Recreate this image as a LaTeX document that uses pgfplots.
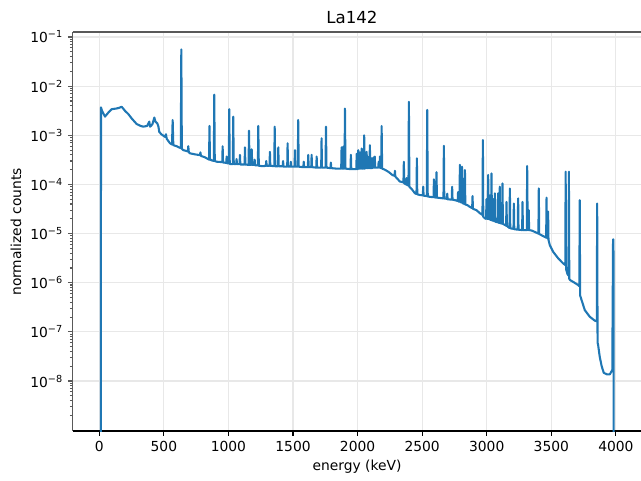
\documentclass[border=0pt]{standalone}
\usepackage{fontspec}
\setmainfont{DejaVu Sans}
\usepackage{pgfplots}
\pgfplotsset{compat=1.18}
\definecolor{mplblue}{HTML}{1F77B4}
\definecolor{spinegray}{HTML}{595959}
\begin{document}
\begin{tikzpicture}
\useasboundingbox (0,0) rectangle (6.41in,4.81in);
\begin{axis}[
  at={(0.727in,0.50in)}, anchor=south west,
  scale only axis, width=5.853in, height=3.99in,
  xmin=-206, xmax=4326,
  ymode=log, ymin=9.62e-10, ymax=0.1265,
  axis x line*=bottom, axis y line*=left,
  separate axis lines,
  x axis line style={black, line width=0.8pt, -},
  y axis line style={spinegray, line width=1.1pt, -},
  xtick={0,500,1000,1500,2000,2500,3000,3500,4000},
  ytick={1e-8,1e-7,1e-6,1e-5,1e-4,1e-3,1e-2,1e-1},
  yticklabels={10\textsuperscript{−8},10\textsuperscript{−7},10\textsuperscript{−6},10\textsuperscript{−5},10\textsuperscript{−4},10\textsuperscript{−3},10\textsuperscript{−2},10\textsuperscript{−1}},
  minor ytick={2e-9,3e-9,4e-9,5e-9,6e-9,7e-9,8e-9,9e-9,
    2e-8,3e-8,4e-8,5e-8,6e-8,7e-8,8e-8,9e-8,
    2e-7,3e-7,4e-7,5e-7,6e-7,7e-7,8e-7,9e-7,
    2e-6,3e-6,4e-6,5e-6,6e-6,7e-6,8e-6,9e-6,
    2e-5,3e-5,4e-5,5e-5,6e-5,7e-5,8e-5,9e-5,
    2e-4,3e-4,4e-4,5e-4,6e-4,7e-4,8e-4,9e-4,
    2e-3,3e-3,4e-3,5e-3,6e-3,7e-3,8e-3,9e-3,
    2e-2,3e-2,4e-2,5e-2,6e-2,7e-2,8e-2,9e-2},
  tick align=outside,
  major tick length=3.5pt, minor tick length=2pt,
  tick style={line width=0.8pt},
  ytick style={color=spinegray},
  xtick style={color=black},
  grid=major, major grid style={black!9, line width=0.8pt},
  minor grid style={draw=none},
  tick label style={font=\fontsize{10}{12}\selectfont, black},
  /pgf/number format/assume math mode=true,
  /pgf/number format/1000 sep={},
  scaled x ticks=false,
  clip mode=individual,
]
\addplot[color=mplblue, line width=1.5pt, line join=round] coordinates {
(0,1e-12)(12,1e-12)(13,3.7e-3)(20,3.2e-3)(44,2.4e-3)(70,2.9e-3)(96,3.4e-3)(130,3.5e-3)(150,3.6e-3)(173,3.8e-3)(185,3.5e-3)(199,3.15e-3)(225,2.7e-3)(251,2.2e-3)(289,1.7e-3)(320,1.55e-3)(341,1.5e-3)(370,1.55e-3)(387,1.9e-3)(393,1.5e-3)(400,1.55e-3)(412,1.7e-3)(426,2.3e-3)(435,1.9e-3)(449,1.75e-3)(458,1.5e-3)(464,1.18e-3)(480,1.05e-3)(509,9.3e-4)(516,1.05e-3)(522,8.5e-4)(547,6.9e-4)(563,6.5e-4)(568,2.05e-3)(573,6.3e-4)(599,6.0e-4)(615,5.7e-4)(631,5.5e-4)(635,5.6e-2)(639,5.3e-4)(650,5.0e-4)(686,4.7e-4)(689,6.0e-4)(693,4.5e-4)(702,4.3e-4)(740,4.1e-4)(779,3.95e-4)(783,4.5e-4)(787,3.8e-4)(815,3.6e-4)(850,3.2e-4)(853,1.55e-3)(857,3.2e-4)(870,3.1e-4)(887,3.0e-4)(890,6.7e-3)(894,3.0e-4)(909,2.9e-4)(952,2.85e-4)(955,6.0e-4)(958,2.8e-4)(983,2.75e-4)(986,3.7e-4)(989,2.7e-4)(1003,2.7e-4)(1006,3.4e-3)(1010,2.6e-4)(1034,2.6e-4)(1037,2.4e-3)(1041,2.6e-4)(1060,2.6e-4)(1063,3.3e-4)(1066,2.6e-4)(1086,2.6e-4)(1089,4.0e-4)(1092,2.55e-4)(1125,2.55e-4)(1128,5.7e-4)(1131,2.55e-4)(1156,2.5e-4)(1159,1.24e-3)(1163,2.5e-4)(1177,2.5e-4)(1180,5.2e-4)(1184,2.5e-4)(1200,2.5e-4)(1203,3.2e-4)(1206,2.45e-4)(1228,2.45e-4)(1231,1.55e-3)(1235,2.4e-4)(1269,2.35e-4)(1290,2.4e-4)(1293,3.0e-4)(1296,2.4e-4)(1318,2.4e-4)(1321,4.6e-4)(1324,2.4e-4)(1355,2.35e-4)(1358,1.5e-3)(1362,2.35e-4)(1383,2.35e-4)(1386,5.7e-4)(1389,2.35e-4)(1420,2.35e-4)(1423,3.0e-4)(1426,2.3e-4)(1455,2.3e-4)(1458,6.9e-4)(1461,2.3e-4)(1480,2.3e-4)(1483,2.9e-4)(1486,2.3e-4)(1512,2.3e-4)(1515,5.0e-4)(1518,2.3e-4)(1537,2.3e-4)(1540,2.05e-3)(1544,2.3e-4)(1580,2.25e-4)(1583,2.9e-4)(1586,2.25e-4)(1615,2.25e-4)(1618,4.0e-4)(1621,2.25e-4)(1641,2.25e-4)(1644,4.0e-4)(1647,2.25e-4)(1680,2.2e-4)(1683,3.7e-4)(1686,2.2e-4)(1718,2.2e-4)(1721,8.7e-4)(1724,2.2e-4)(1752,2.2e-4)(1755,1.5e-3)(1759,2.2e-4)(1790,2.15e-4)(1793,2.8e-4)(1796,2.15e-4)(1837,2.1e-4)(1873,2.1e-4)(1876,5.7e-4)(1879,2.1e-4)(1886,2.1e-4)(1889,5.9e-4)(1892,2.1e-4)(1899,2.1e-4)(1902,3.5e-3)(1906,2.1e-4)(1945,2.05e-4)(1948,4.0e-4)(1951,2.05e-4)(1970,2.05e-4)(1990,2.05e-4)(1993,4.2e-4)(1996,2.05e-4)(2002,2.05e-4)(2005,5.0e-4)(2008,2.1e-4)(2016,2.1e-4)(2019,4.5e-4)(2022,2.1e-4)(2028,2.1e-4)(2031,5.4e-4)(2034,2.1e-4)(2040,2.1e-4)(2043,3.5e-4)(2046,2.1e-4)(2048,2.1e-4)(2051,1.0e-3)(2054,2.1e-4)(2060,2.15e-4)(2063,3.2e-4)(2066,2.15e-4)(2067,2.15e-4)(2070,4.6e-4)(2073,2.15e-4)(2080,2.15e-4)(2083,3.6e-4)(2086,2.15e-4)(2092,2.15e-4)(2095,6.3e-4)(2098,2.15e-4)(2105,2.15e-4)(2108,3.4e-4)(2111,2.15e-4)(2118,2.2e-4)(2121,3.5e-4)(2124,2.2e-4)(2130,2.2e-4)(2133,3.7e-4)(2136,2.2e-4)(2160,2.2e-4)(2163,2.9e-4)(2166,2.2e-4)(2170,2.2e-4)(2173,3.7e-4)(2176,2.2e-4)(2183,2.15e-4)(2186,1.55e-3)(2190,2.1e-4)(2210,2.0e-4)(2240,1.8e-4)(2270,1.55e-4)(2286,1.5e-4)(2289,1.9e-4)(2292,1.45e-4)(2327,1.15e-4)(2355,1.1e-4)(2358,2.9e-4)(2361,1.05e-4)(2376,1.0e-4)(2379,1.35e-4)(2382,9.8e-5)(2394,9.5e-5)(2397,4.8e-3)(2401,9.0e-5)(2420,8.0e-5)(2444,6.6e-5)(2456,6.4e-5)(2459,3.4e-4)(2462,6.3e-5)(2482,6.1e-5)(2505,6.0e-5)(2508,9.0e-5)(2511,5.9e-5)(2536,5.8e-5)(2539,3.3e-3)(2543,5.7e-5)(2560,5.6e-5)(2588,5.5e-5)(2591,1.27e-4)(2594,5.5e-5)(2608,5.4e-5)(2611,1.77e-4)(2614,5.4e-5)(2640,5.3e-5)(2665,5.2e-5)(2668,6.1e-4)(2671,5.2e-5)(2691,5.1e-5)(2694,6.5e-5)(2697,5.0e-5)(2729,4.9e-5)(2732,9.0e-5)(2735,4.9e-5)(2753,4.8e-5)(2775,4.6e-5)(2778,7e-5)(2781,4.5e-5)(2789,4.5e-5)(2792,2.5e-4)(2795,4.4e-5)(2805,4.3e-5)(2808,2.3e-4)(2811,4.2e-5)(2818,4.1e-5)(2821,1.3e-4)(2824,4.0e-5)(2828,4.0e-5)(2831,1.96e-4)(2834,3.9e-5)(2850,3.8e-5)(2869,3.5e-5)(2887,3.3e-5)(2890,5.8e-5)(2893,3.2e-5)(2920,3.0e-5)(2947,2.6e-5)(2967,2.4e-5)(2970,8.0e-4)(2973,2.2e-5)(2985,2.05e-5)(2995,2.0e-5)(2998,5.0e-5)(3001,2.0e-5)(3008,2.0e-5)(3011,1.56e-4)(3014,2.0e-5)(3022,1.95e-5)(3025,6.0e-5)(3028,1.9e-5)(3034,1.9e-5)(3037,1.68e-4)(3040,1.85e-5)(3047,1.85e-5)(3050,5.0e-5)(3053,1.8e-5)(3060,1.8e-5)(3063,6.6e-5)(3066,1.75e-5)(3085,1.7e-5)(3088,6.6e-5)(3091,1.68e-5)(3098,1.65e-5)(3101,9.0e-5)(3104,1.63e-5)(3119,1.6e-5)(3122,1.05e-4)(3125,1.58e-5)(3150,1.45e-5)(3153,4.4e-5)(3156,1.43e-5)(3176,1.3e-5)(3179,8.3e-5)(3182,1.28e-5)(3207,1.25e-5)(3210,4.1e-5)(3213,1.23e-5)(3240,1.2e-5)(3243,5.2e-5)(3246,1.2e-5)(3274,1.18e-5)(3277,4.4e-5)(3280,1.18e-5)(3310,1.18e-5)(3313,2.37e-4)(3317,1.18e-5)(3322,1.18e-5)(3325,3.0e-5)(3328,1.18e-5)(3350,1.15e-5)(3386,1.04e-5)(3400,1.0e-5)(3403,8.3e-5)(3406,9.8e-6)(3437,8.9e-6)(3460,8.3e-6)(3463,5.4e-5)(3466,8.2e-6)(3472,8.0e-6)(3475,2.8e-5)(3478,7.5e-6)(3488,5.85e-6)(3514,4.27e-6)(3553,3.14e-6)(3591,2.48e-6)(3608,2.3e-6)(3611,1.82e-4)(3614,1.9e-6)(3625,1.5e-6)(3633,1.4e-6)(3636,1.82e-4)(3639,1.2e-6)(3644,1.14e-6)(3680,1.0e-6)(3707,9.0e-7)(3717,8.5e-7)(3720,4.8e-5)(3723,5.5e-7)(3726,5.2e-7)(3759,2.78e-7)(3798,2.03e-7)(3837,1.69e-7)(3852,1.65e-7)(3855,4.1e-5)(3858,6e-8)(3862,5.5e-8)(3875,3.1e-8)(3890,2.0e-8)(3906,1.47e-8)(3930,1.37e-8)(3953,1.37e-8)(3972,1.68e-8)(3978,7.6e-6)(3981,7.6e-6)(3984,1e-12)(4120,1e-12)
};
\draw[spinegray, line width=1.1pt] (rel axis cs:0,1) -- (rel axis cs:1,1);
\end{axis}
\node[font=\fontsize{12}{14.4}\selectfont] at (3.52in,4.64in) {La142};
\node[font=\fontsize{10}{12}\selectfont] at (3.57in,0.14in) {energy (keV)};
\node[font=\fontsize{10}{12}\selectfont, rotate=90] at (0.16in,2.49in) {normalized counts};
\end{tikzpicture}
\end{document}
